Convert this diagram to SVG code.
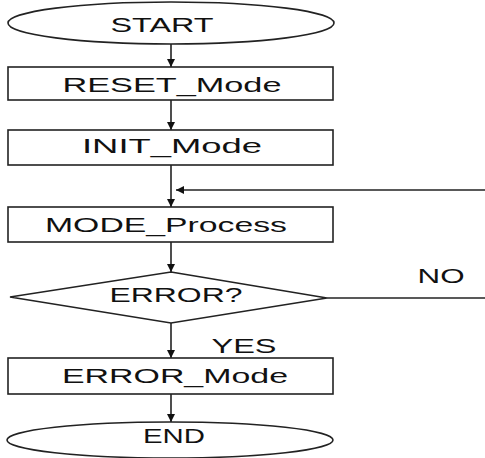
<svg xmlns="http://www.w3.org/2000/svg" width="485" height="458" viewBox="0 0 485 458">
<style>
.shape{fill:#fff;stroke:#222;stroke-width:1.6}
.lbl{font-family:"Liberation Sans",Arial,sans-serif;font-size:20px;fill:#111;text-anchor:middle}
.conn{stroke:#222;stroke-width:1.6;fill:none}
</style>
<defs>
<marker id="ah" viewBox="0 0 10 10" refX="10" refY="5" markerWidth="8" markerHeight="8" markerUnits="userSpaceOnUse" orient="auto">
<path d="M0,0 L10,5 L0,10 Z" fill="#111"/>
</marker>
</defs>
<rect width="485" height="458" fill="#fff"/>
<g id="connectors">
<line class="conn" x1="171" y1="44" x2="171" y2="67" marker-end="url(#ah)"/>
<line class="conn" x1="171" y1="100" x2="171" y2="130" marker-end="url(#ah)"/>
<line class="conn" x1="171" y1="165" x2="171" y2="207" marker-end="url(#ah)"/>
<line class="conn" x1="485" y1="190" x2="176" y2="190" marker-end="url(#ah)"/>
<line class="conn" x1="171" y1="242" x2="171" y2="272" marker-end="url(#ah)"/>
<line class="conn" x1="327" y1="298" x2="485" y2="298"/>
<line class="conn" x1="171" y1="323" x2="171" y2="358" marker-end="url(#ah)"/>
<line class="conn" x1="171" y1="394" x2="171" y2="422" marker-end="url(#ah)"/>
<text class="lbl" x="441" y="283" textLength="47" lengthAdjust="spacingAndGlyphs">NO</text>
<text class="lbl" x="244" y="353" textLength="65" lengthAdjust="spacingAndGlyphs">YES</text>
</g>
<g id="start">
<ellipse class="shape" cx="171" cy="23" rx="163" ry="21"/>
<text class="lbl" x="162" y="32" textLength="103" lengthAdjust="spacingAndGlyphs">START</text>
</g>
<g id="reset_mode">
<rect class="shape" x="8" y="67" width="325" height="33"/>
<text class="lbl" x="172" y="92" textLength="219" lengthAdjust="spacingAndGlyphs">RESET_Mode</text>
</g>
<g id="init_mode">
<rect class="shape" x="8" y="130" width="325" height="35"/>
<text class="lbl" x="172" y="153" textLength="180" lengthAdjust="spacingAndGlyphs">INIT_Mode</text>
</g>
<g id="mode_process">
<rect class="shape" x="8" y="207" width="325" height="35"/>
<text class="lbl" x="166" y="232" textLength="242" lengthAdjust="spacingAndGlyphs">MODE_Process</text>
</g>
<g id="error_q">
<polygon class="shape" points="171,272 327,298 171,323 10,297"/>
<text class="lbl" x="176" y="302" textLength="133" lengthAdjust="spacingAndGlyphs">ERROR?</text>
</g>
<g id="error_mode">
<rect class="shape" x="8" y="358" width="325" height="36"/>
<text class="lbl" x="175" y="383" textLength="226" lengthAdjust="spacingAndGlyphs">ERROR_Mode</text>
</g>
<g id="end">
<ellipse class="shape" cx="170" cy="440" rx="163" ry="18"/>
<text class="lbl" x="174" y="443" textLength="62" lengthAdjust="spacingAndGlyphs">END</text>
</g>
</svg>
